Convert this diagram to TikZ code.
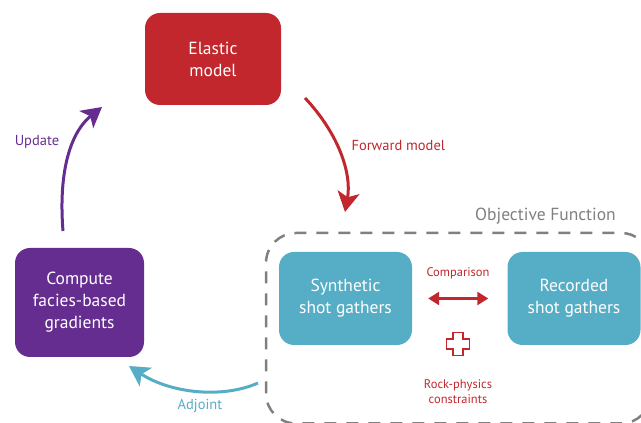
\documentclass[tikz,border=0pt]{standalone}
\usepackage{fontspec}
\setmainfont{PT Sans}
\usetikzlibrary{arrows.meta, positioning}

\definecolor{elastic}{HTML}{C1272D}
\definecolor{facies}{HTML}{662D91}
\definecolor{shot}{HTML}{56ADC6}
\definecolor{objgray}{HTML}{808080}

\begin{document}
\begin{tikzpicture}[x=1pt, y=1pt, >={Stealth[length=20pt,width=22pt,inset=5pt]},
    box/.style={rectangle, rounded corners=15pt, minimum width=133pt, minimum height=93pt,
                text=white, align=center, font=\fontsize{17.5}{22}\selectfont},
    lbl/.style={font=\fontsize{14.5}{17}\selectfont},
    small/.style={text=elastic, align=center, font=\fontsize{12.5}{15}\selectfont},
    flow/.style={->, line width=3pt}]

    \useasboundingbox (0,0) rectangle (641,423);

    \node[box, fill=elastic, minimum width=136pt, minimum height=92pt] (M) at (213,364) {Elastic\\model};
    \node[box, fill=facies, minimum width=129pt, minimum height=109pt] (G) at (79.5,120.5) {Compute\\facies-based\\gradients};
    \node[box, fill=shot] (S) at (345.5,124.5) {Synthetic\\shot gathers};
    \node[box, fill=shot] (R) at (574,124.5)   {Recorded\\shot gathers};

    % objective function
    \draw[objgray, line width=2.5pt, dash pattern=on 12pt off 10pt, rounded corners=30pt]
        (266,-0.5) rectangle (651,190);
    \node[text=objgray, font=\fontsize{17.5}{20}\selectfont] (O) at (545.5,207) {Objective Function};

    \node[small] (C) at (458,150) {Comparison};
    \draw[<->, elastic, line width=2.5pt, >={Triangle[length=11pt,width=13pt]},
          shorten <=16pt, shorten >=19pt] (S) -- (R);
    \draw[elastic, line width=1.8pt, fill=white, shift={(458,79)}]
        (-5,11.5) -- (5,11.5) -- (5,5) -- (11.5,5) -- (11.5,-5) -- (5,-5) -- (5,-11.5)
        -- (-5,-11.5) -- (-5,-5) -- (-11.5,-5) -- (-11.5,5) -- (-5,5) -- cycle;
    \node[small] (P) at (458,31.5) {Rock-physics\\constraints};

    % loop
    \coordinate (fwd-s) at (305,325);
    \coordinate (fwd-e) at (345,211);
    \coordinate (upd-s) at (63,192);
    \coordinate (upd-e) at (102,316);
    \coordinate (adj-s) at (258,40);
    \coordinate (adj-e) at (129,57);

    \draw[flow, elastic] (fwd-s) .. controls (338,290) and (352,250) .. (fwd-e);
    \node[lbl, text=elastic, anchor=west] at (348,277) {Forward model};

    \draw[flow, facies] (upd-s) .. controls (58,255) and (72,292) .. (upd-e);
    \node[lbl, text=facies] at (37,281) {Update};

    \draw[flow, shot] (adj-s) .. controls (222,24) and (170,30) .. (adj-e);
    \node[lbl, text=shot] at (200,17) {Adjoint};
\end{tikzpicture}
\end{document}
